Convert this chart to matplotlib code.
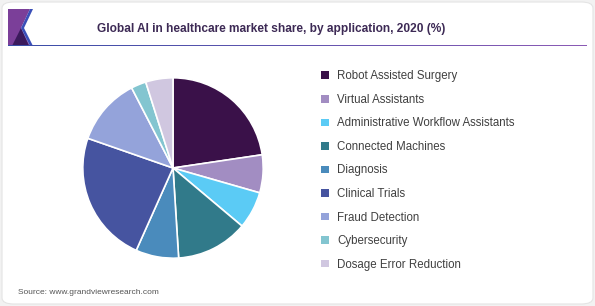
import numpy as np
import matplotlib.pyplot as plt
from matplotlib.patches import FancyBboxPatch, Polygon
from matplotlib.colors import LinearSegmentedColormap

# ── DATA ─────────────────────────────────────────────
labels = [
    "Robot Assisted Surgery", "Virtual Assistants",
    "Administrative Workflow Assistants", "Connected Machines",
    "Diagnosis", "Clinical Trials", "Fraud Detection",
    "Cybersecurity", "Dosage Error Reduction",
]
shares = [22.7, 6.8, 6.7, 12.9, 7.7, 23.7, 12.1, 2.7, 4.9]
colors = ["#3a1149", "#a28dc2", "#5bcbf5", "#317a8a", "#4a8bbc",
          "#4654a0", "#94a3da", "#83c5d0", "#d0c7e0"]

W, H = 595, 306
fig = plt.figure(figsize=(W / 100, H / 100), dpi=100)
fig.patch.set_facecolor("#f2f2f2")

# card background (kept behind the axes)
card = FancyBboxPatch((2 / W, 2 / H), 1 - 4 / W, 1 - 4 / H,
                      boxstyle="round,pad=0,rounding_size=0.02",
                      transform=fig.transFigure, facecolor="white",
                      edgecolor="#e4e4e4", linewidth=0.8, zorder=-10)
fig.patches.append(card)


def px(x, y):
    return (x / W, 1 - y / H)


# logo block at top-left
logo = Polygon([px(8, 9), px(30, 9), px(21, 28), px(30, 46), px(8, 46)],
               closed=True, transform=fig.transFigure,
               facecolor="#7b3f99", edgecolor="none", zorder=-5)
dark = Polygon([px(12, 46), px(21, 28), px(29, 46)],
               closed=True, transform=fig.transFigure,
               facecolor="#3b1a5c", edgecolor="none", zorder=-4)
chev = Polygon([px(30, 9), px(33, 9), px(24, 28), px(33, 46), px(30, 46), px(21, 28)],
               closed=True, transform=fig.transFigure,
               facecolor="#3a4fb8", edgecolor="none", zorder=-3)
fig.patches.extend([logo, dark, chev])

# gradient rule under title
gax = fig.add_axes([8 / W, 1 - 46.5 / H, (587 - 8) / W, 1.5 / H])
grad = np.linspace(0, 1, 256).reshape(1, -1)
cmap = LinearSegmentedColormap.from_list("rule", ["#3a4ea8", "#8b5bb5"])
gax.imshow(grad, aspect="auto", cmap=cmap)
gax.axis("off")

fig.text(271 / W, 1 - 29 / H,
         "Global AI in healthcare market share, by application, 2020 (%)",
         ha="center", va="center", fontsize=8.6, fontweight="bold",
         color="#3d2a55", family="Liberation Sans")

# ── PIE ──────────────────────────────────────────────
cx, cy, r = 173, 168, 92
ax = fig.add_axes([(cx - r) / W, (H - cy - r) / H, 2 * r / W, 2 * r / H])
wedges, _ = ax.pie(shares, colors=colors, startangle=90, counterclock=False,
                   wedgeprops=dict(edgecolor="white", linewidth=1.2))
ax.set_xlim(-1.02, 1.02)
ax.set_ylim(-1.02, 1.02)
ax.set_aspect("equal")

leg = fig.legend(wedges, labels, loc="upper left",
                 bbox_to_anchor=(311 / W, 1 - 60 / H), frameon=False,
                 labelspacing=1.0, handlelength=0.65,
                 handleheight=0.65, handletextpad=0.72,
                 prop={"family": "Liberation Sans", "size": 8.3})
for t in leg.get_texts():
    t.set_color("#404040")
for h in leg.legend_handles:
    h.set_edgecolor("none")

fig.text(18 / W, 1 - 293 / H, "Source: www.grandviewresearch.com",
         ha="left", va="center", fontsize=6, color="#555555",
         family="Liberation Sans")

fig.savefig("out.png", dpi=100, facecolor=fig.get_facecolor())
